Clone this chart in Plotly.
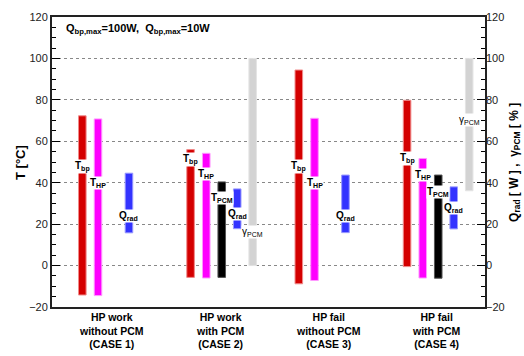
import plotly.graph_objects as go

# Operating cases (x groups)
case_lines = [
    ["HP work", "without PCM", "(CASE 1)"],
    ["HP work", "with PCM", "(CASE 2)"],
    ["HP fail", "without PCM", "(CASE 3)"],
    ["HP fail", "with PCM", "(CASE 4)"],
]

# Temperature ranges [°C] per case (None = not present in that case)
t_bp_min = [-14.2, -5.7, -8.8, -0.5]
t_bp_max = [72.3, 56.0, 94.4, 79.8]
t_bp_lbl = [47.7, 51.2, 47.6, 51.5]

t_hp_min = [-14.5, -6.0, -7.2, -6.0]
t_hp_max = [70.8, 54.2, 71.1, 51.7]
t_hp_lbl = [39.8, 44.0, 39.8, 43.8]

t_pcm_min = [None, -5.7, None, -6.1]
t_pcm_max = [None, 40.4, None, 43.7]
t_pcm_lbl = [None, 32.7, None, 35.5]

# Radiator heat rejection [W]
q_rad_min = [15.8, 17.8, 15.9, 17.7]
q_rad_max = [44.6, 37.0, 43.7, 38.0]
q_rad_lbl = [23.7, 24.8, 23.7, 27.8]

# PCM melt fraction [%]
g_pcm_min = [None, 0.0, None, 36.1]
g_pcm_max = [None, 100.0, None, 100.0]
g_pcm_lbl = [None, 16.4, None, 70.2]

top_note = "Q<sub>bp,max</sub>=100W,  Q<sub>bp,max</sub>=10W"

FONT = "Liberation Sans, Arial, sans-serif"
BAR_W = 0.07

series = [
    # name, label text, offset in group, fill, edge, mins, maxs, label y, axis, bold label
    ("T_bp", "T<sub>bp</sub>", 0.28, "#D40000", "#F08A8A", t_bp_min, t_bp_max, t_bp_lbl, "y", True),
    ("T_HP", "T<sub>HP</sub>", 0.425, "#FF00FF", "#FF99FF", t_hp_min, t_hp_max, t_hp_lbl, "y", True),
    ("T_PCM", "T<sub>PCM</sub>", 0.568, "#000000", "#555555", t_pcm_min, t_pcm_max, t_pcm_lbl, "y", True),
    ("Q_rad", "Q<sub>rad</sub>", 0.711, "#3333FF", "#9999FF", q_rad_min, q_rad_max, q_rad_lbl, "y2", True),
    ("gamma_PCM", "γ<sub>PCM</sub>", 0.854, "#D3D3D3", "#E4E4E4", g_pcm_min, g_pcm_max, g_pcm_lbl, "y2", False),
]

fig = go.Figure()
annotations = []

for name, lbl, off, fill, edge, mins, maxs, lbls, yax, bold in series:
    xs, bases, heights = [], [], []
    for k, (lo, hi) in enumerate(zip(mins, maxs)):
        if lo is None:
            continue
        xs.append(k + off)
        bases.append(lo)
        heights.append(hi - lo)
    fig.add_trace(go.Bar(
        x=xs, y=heights, base=bases, width=BAR_W, name=name,
        marker=dict(color=fill, line=dict(color=edge, width=1)),
        textposition="none", hoverinfo="skip",
        yaxis=yax, showlegend=False,
    ))
    for k, ly in enumerate(lbls):
        if ly is None:
            continue
        text = f"<b>{lbl}</b>" if bold else lbl
        annotations.append(dict(
            x=k + off, y=ly, xref="x", yref=yax, text=text,
            showarrow=False, bgcolor="white", borderpad=0,
            font=dict(family=FONT, size=10, color="black"),
            xanchor="center", yanchor="middle",
        ))

# Category labels below the axis
for k, lines in enumerate(case_lines):
    annotations.append(dict(
        x=k + 0.55, y=-0.01, xref="x", yref="paper",
        text="<b>" + "<br>".join(lines) + "</b>",
        showarrow=False, xanchor="center", yanchor="top", borderpad=0,
        font=dict(family=FONT, size=10.5, color="black"),
    ))

# Heat load note
annotations.append(dict(
    x=0.027, y=0.958, xref="paper", yref="paper", text=f"<b>{top_note}</b>",
    showarrow=False, xanchor="left", yanchor="middle",
    font=dict(family=FONT, size=11, color="black"),
))

# Axis titles
annotations.append(dict(
    x=-0.074, y=0.5, xref="paper", yref="paper", text="<b>T [°C]</b>",
    textangle=-90, showarrow=False, xanchor="center", yanchor="middle",
    font=dict(family=FONT, size=13, color="black"),
))
annotations.append(dict(
    x=1.069, y=0.5, xref="paper", yref="paper",
    text="<b>Q<sub>rad</sub> [ W ] ,  γ<sub>PCM</sub> [ % ]</b>",
    textangle=-90, showarrow=False, xanchor="center", yanchor="middle",
    font=dict(family=FONT, size=12, color="black"),
))

yaxis_common = dict(
    range=[-20, 120], dtick=20, tick0=0,
    ticks="inside", ticklen=8, tickwidth=1, tickcolor="black",
    minor=dict(ticks="inside", ticklen=4, dtick=5, tickcolor="black", showgrid=False),
    tickfont=dict(family=FONT, size=11, color="#222"),
    zeroline=False,
)

fig.update_layout(
    width=524, height=356,
    margin=dict(l=52, r=39, t=11, b=49),
    plot_bgcolor="white", paper_bgcolor="white",
    barmode="overlay",
    xaxis=dict(range=[0, 4], showticklabels=False, ticks="", showgrid=False,
               zeroline=False, showline=True, linecolor="#222", linewidth=2, mirror=True),
    yaxis=dict(**yaxis_common, showgrid=True, gridcolor="#888", griddash="dot", gridwidth=1,
               showline=True, linecolor="#222", linewidth=2, mirror=True),
    yaxis2=dict(**yaxis_common, overlaying="y", side="right", showgrid=False,
                showline=False),
    annotations=annotations,
    font=dict(family=FONT),
)

fig.write_html("out.html")
